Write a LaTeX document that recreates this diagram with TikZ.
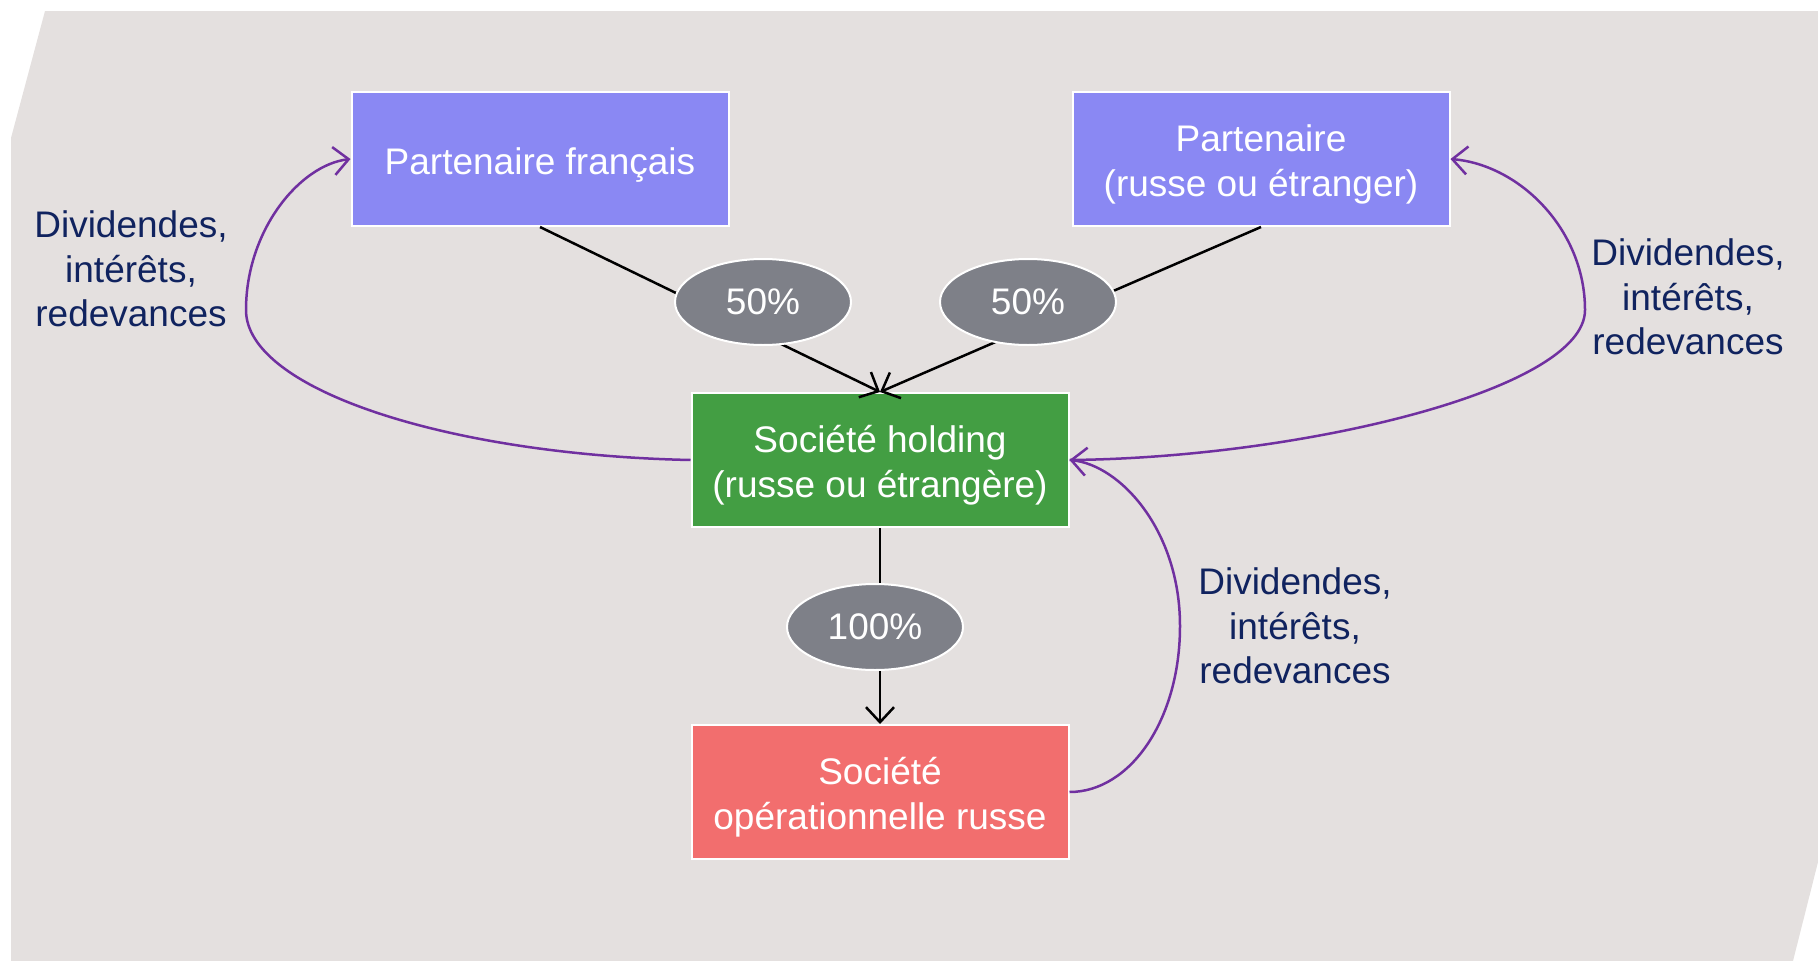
\documentclass[tikz,border=0pt]{standalone}
\usepackage{fontspec}
\setmainfont{Liberation Sans}
\usetikzlibrary{arrows.meta,shapes.geometric}

\definecolor{panelbg}{HTML}{E4E0DF}
\definecolor{partnerblue}{HTML}{8A88F3}
\definecolor{holdgreen}{HTML}{439E43}
\definecolor{opred}{HTML}{F26E6E}
\definecolor{sharegrey}{HTML}{7E8088}
\definecolor{flowpurple}{HTML}{7030A0}
\definecolor{labelnavy}{HTML}{10235F}

% fixed line metrics so that box texts sit at the same height whatever their glyphs
\newcommand\boxtopgap{\rule{0pt}{38pt}}
\newcommand\boxbotgap{\rule[-8pt]{0pt}{8pt}}

\tikzset{
  bigtext/.style={font=\fontsize{37}{44.6}\selectfont},
  entity/.style={rectangle, draw=white, line width=2pt, minimum width=377pt,
    minimum height=134pt, align=center, text=white, bigtext},
  share/.style={ellipse, draw=white, line width=2pt, fill=sharegrey,
    minimum width=176pt, minimum height=86pt, inner sep=0pt, text=white, bigtext},
  flowlabel/.style={align=center, text=labelnavy, bigtext},
  owns/.style={draw=black, line width=2.5pt, -{Straight Barb[length=15pt,width=28pt,line width=2.5pt]}},
  flow/.style={draw=flowpurple, line width=2.5pt, -{Straight Barb[length=15pt,width=28pt,line width=2.5pt]}}
}

\begin{document}
\begin{tikzpicture}[x=1pt,y=-1pt]
\useasboundingbox (0,0) rectangle (1818,961);

% panel
\fill[panelbg] (45,11) -- (1818,11) -- (1818,862) -- (1793,961) -- (11,961) -- (11,138) -- cycle;

% entities
\node[entity, fill=partnerblue] (pf) at (540,159) {\boxtopgap Partenaire français\boxbotgap};
\node[entity, fill=partnerblue] (pr) at (1261,159) {\boxtopgap Partenaire\\(russe ou étranger)\boxbotgap};
\node[entity, fill=holdgreen] (hold) at (880,460) {\boxtopgap Société holding\\(russe ou étrangère)\boxbotgap};
\node[entity, fill=opred] (op) at (880,792) {\boxtopgap Société\\opérationnelle russe\boxbotgap};

% ownership links
\draw[owns] (pf.south) -- (hold.north);
\draw[owns] (pr.south) -- (hold.north);
\draw[owns] (hold.south) -- (op.north);

% shareholding percentages
\node[share] (s1) at (763,302) {50\%};
\node[share] (s2) at (1028,302) {50\%};
\node[share] (s3) at (875,627) {100\%};

% payment flows
\draw[flow] (hold.west) .. controls (450,455) and (246,390) .. (246,310)
  .. controls (246,230) and (300,165) .. (pf.west);
\draw[flow] (hold.east) .. controls (1300,458) and (1585,390) .. (1585,310)
  .. controls (1585,230) and (1520,165) .. (pr.east);
\draw[flow] (op.east) .. controls (1130,792) and (1180,720) .. (1180,626)
  .. controls (1180,530) and (1120,465) .. (hold.east);

% flow labels
\node[flowlabel] (l1) at (131,269) {Dividendes,\\intérêts,\\redevances};
\node[flowlabel] (l2) at (1688,297) {Dividendes,\\intérêts,\\redevances};
\node[flowlabel] (l3) at (1295,626) {Dividendes,\\intérêts,\\redevances};
\end{tikzpicture}
\end{document}
